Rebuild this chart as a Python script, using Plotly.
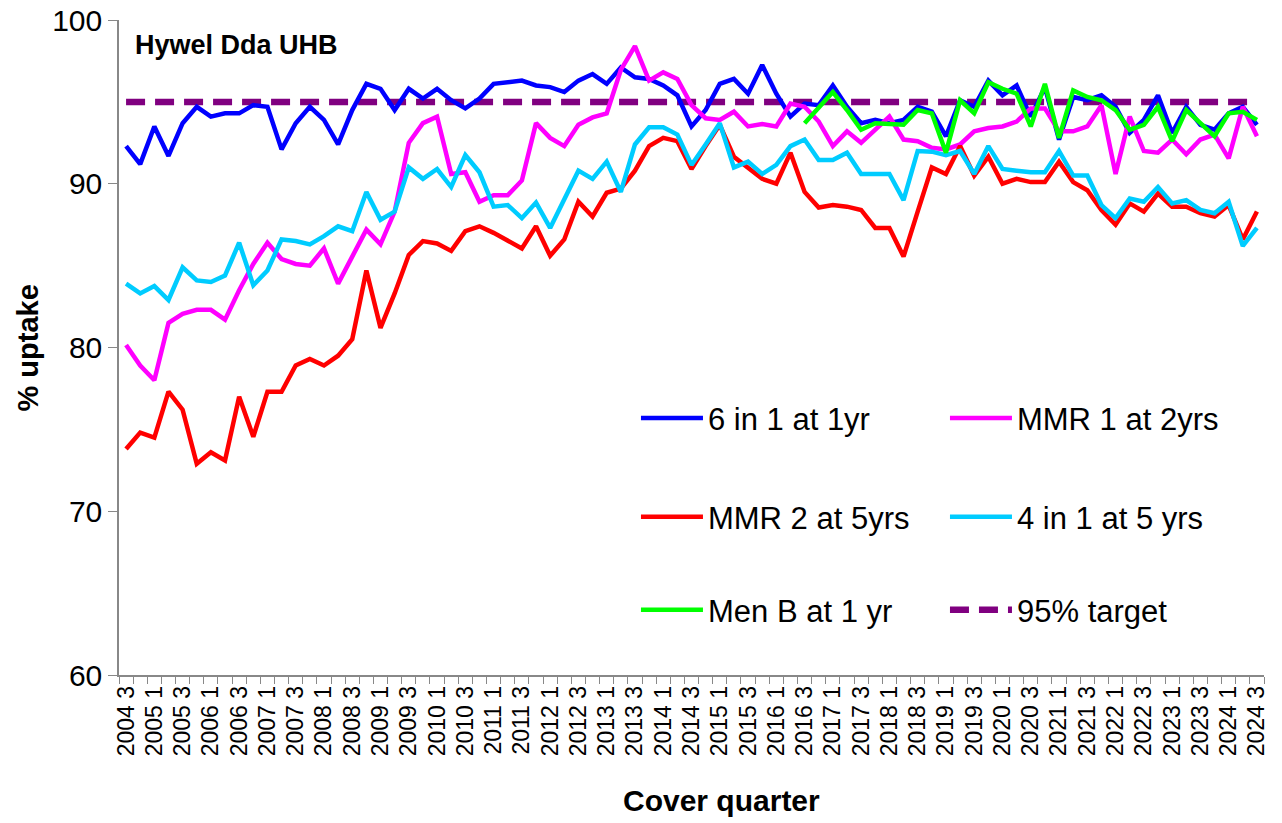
import plotly.graph_objects as go

# Cover quarters 2004 Q3 .. 2024 Q3
quarters = []
for yr in range(2004, 2025):
    for q in range(1, 5):
        if (yr == 2004 and q < 3) or (yr == 2024 and q > 3):
            continue
        quarters.append(f"{yr} {q}")

six_in_one_1yr = [92.3, 91.2, 93.5, 91.7, 93.7, 94.7, 94.1, 94.3, 94.3, 94.8,
                  94.7, 92.1, 93.7, 94.7, 93.9, 92.4, 94.5, 96.1, 95.8, 94.5,
                  95.8, 95.2, 95.8, 95.1, 94.6, 95.2, 96.1, 96.2, 96.3, 96.0,
                  95.9, 95.6, 96.3, 96.7, 96.1, 97.1, 96.5, 96.4, 96.0, 95.4,
                  93.5, 94.5, 96.1, 96.4, 95.5, 97.25, 95.5, 94.1, 94.9, 94.8,
                  96.0, 94.7, 93.7, 93.9, 93.7, 93.9, 94.7, 94.4, 92.9, 95.1,
                  94.7, 96.3, 95.4, 96.0, 94.1, 95.9, 92.7, 95.3, 95.1, 95.4,
                  94.7, 93.1, 93.9, 95.4, 93.1, 94.7, 93.6, 93.3, 94.3, 94.7,
                  93.6]

mmr1_2yrs = [80.15, 78.9, 78.0, 81.5, 82.05, 82.3, 82.3, 81.7, 83.5, 85.1,
             86.4, 85.4, 85.1, 85.0, 86.05, 83.9, 85.55, 87.2, 86.3, 88.3,
             92.5, 93.7, 94.1, 90.6, 90.7, 88.9, 89.3, 89.3, 90.2, 93.7,
             92.8, 92.3, 93.6, 94.05, 94.3, 96.95, 98.4, 96.3, 96.8, 96.4,
             94.8, 94.0, 93.9, 94.4, 93.5, 93.65, 93.5, 94.9, 94.7, 93.8,
             92.3, 93.2, 92.5, 93.3, 94.1, 92.7, 92.6, 92.2, 92.1, 92.4,
             93.2, 93.4, 93.5, 93.8, 94.6, 94.6, 93.2, 93.2, 93.5, 94.8,
             90.6, 94.1, 92.0, 91.9, 92.7, 91.8, 92.7, 93.0, 91.55, 94.7,
             92.9]

mmr2_5yrs = [73.8, 74.8, 74.5, 77.3, 76.2, 72.9, 73.6, 73.1, 77.0, 74.55,
             77.3, 77.3, 78.9, 79.3, 78.9, 79.5, 80.5, 84.7, 81.2, 83.3,
             85.65, 86.5, 86.35, 85.9, 87.1, 87.4, 87.0, 86.5, 86.05, 87.4,
             85.6, 86.6, 88.9, 88.0, 89.45, 89.7, 90.8, 92.3, 92.8, 92.6,
             90.9, 92.3, 93.6, 91.65, 91.0, 90.3, 90.0, 91.9, 89.5, 88.55,
             88.7, 88.6, 88.4, 87.3, 87.3, 85.55, 88.3, 91.0, 90.6, 92.3,
             90.5, 91.65, 90.0, 90.3, 90.1, 90.1, 91.35, 90.1, 89.6, 88.4,
             87.5, 88.8, 88.3, 89.4, 88.6, 88.6, 88.2, 88.0, 88.7, 86.6,
             88.3]

four_in_one_5yrs = [83.9, 83.3, 83.75, 82.9, 84.9, 84.1, 84.0, 84.4, 86.4, 83.8,
                    84.7, 86.6, 86.5, 86.3, 86.8, 87.4, 87.1, 89.5, 87.8, 88.3,
                    91.0, 90.3, 90.9, 89.8, 91.75, 90.7, 88.6, 88.7, 87.9, 88.85,
                    87.3, 89.0, 90.8, 90.3, 91.35, 89.5, 92.4, 93.45, 93.45, 93.0,
                    91.15, 92.4, 93.7, 91.0, 91.35, 90.6, 91.15, 92.3, 92.7, 91.45,
                    91.45, 91.9, 90.6, 90.6, 90.6, 89.0, 92.0, 91.96, 91.75, 92.0,
                    90.6, 92.3, 90.9, 90.8, 90.7, 90.7, 92.0, 90.5, 90.5, 88.7,
                    87.9, 89.1, 88.9, 89.8, 88.8, 89.0, 88.4, 88.2, 88.9, 86.2,
                    87.3]

menb_1yr = [None] * 48 + [93.7, 94.7, 95.6, 94.5, 93.3, 93.7, 93.65, 93.6, 94.5, 94.3,
                          91.9, 95.1, 94.3, 96.2, 95.8, 95.5, 93.5, 96.1, 92.8, 95.7,
                          95.3, 95.1, 94.5, 93.3, 93.6, 94.7, 92.6, 94.5, 93.7, 92.9,
                          94.3, 94.4, 93.9]

target = [95] * len(quarters)

tick_text = [q if i % 2 == 0 else "" for i, q in enumerate(quarters)]

FONT = "Liberation Sans, Arial, sans-serif"

fig = go.Figure()
fig.add_trace(go.Scatter(x=quarters, y=target, name="95% target", mode="lines",
                         line=dict(color="#800080", width=6.5, dash="19px,10px"),
                         legend="legend3", legendrank=2))
fig.add_trace(go.Scatter(x=quarters, y=six_in_one_1yr, name="6 in 1 at 1yr", mode="lines",
                         line=dict(color="#0000FF", width=4.5), legend="legend", legendrank=1))
fig.add_trace(go.Scatter(x=quarters, y=mmr1_2yrs, name="MMR 1 at 2yrs", mode="lines",
                         line=dict(color="#FF00FF", width=4.5), legend="legend", legendrank=2))
fig.add_trace(go.Scatter(x=quarters, y=mmr2_5yrs, name="MMR 2 at 5yrs", mode="lines",
                         line=dict(color="#FF0000", width=4.5), legend="legend2", legendrank=1))
fig.add_trace(go.Scatter(x=quarters, y=four_in_one_5yrs, name="4 in 1 at 5 yrs", mode="lines",
                         line=dict(color="#00CCFF", width=4.5), legend="legend2", legendrank=2))
fig.add_trace(go.Scatter(x=quarters, y=menb_1yr, name="Men B at 1 yr", mode="lines",
                         line=dict(color="#00FF00", width=4.5), legend="legend3", legendrank=1))

leg_common = dict(orientation="h", xanchor="left", yanchor="middle",
                  font=dict(family=FONT, size=31, color="#000000"),
                  entrywidth=232, entrywidthmode="pixels", itemwidth=62,
                  bgcolor="rgba(0,0,0,0)", traceorder="normal")

fig.update_layout(
    template="none",
    width=1282, height=823,
    margin=dict(l=119, r=18, t=20, b=148, autoexpand=False),
    paper_bgcolor="white", plot_bgcolor="white",
    font=dict(family=FONT, color="#000000"),
    showlegend=True,
    legend=dict(x=0.4515, y=0.392, **leg_common),
    legend2=dict(x=0.4515, y=0.241, **leg_common),
    legend3=dict(x=0.4515, y=0.099, **leg_common),
    xaxis=dict(
        type="category", range=[-0.5, len(quarters) - 0.5], automargin=False,
        tickmode="array", tickvals=quarters, ticktext=tick_text,
        tickson="boundaries", ticks="outside", ticklen=7, tickcolor="#888888",
        tickwidth=1, tickangle=-90, tickfont=dict(family=FONT, size=23, color="#000000"),
        ticklabeloverflow="allow",
        showline=True, linecolor="#888888", linewidth=1.5,
        showgrid=False, zeroline=False,
    ),
    yaxis=dict(
        range=[60, 100], tickmode="array", tickvals=[60, 70, 80, 90, 100],
        automargin=False, ticklabeloverflow="allow",
        ticks="outside", ticklen=9, tickcolor="#888888", tickwidth=1,
        tickfont=dict(family=FONT, size=30, color="#000000"),
        showline=True, linecolor="#888888", linewidth=1.5,
        showgrid=False, zeroline=False,
    ),
    annotations=[
        dict(text="<b>Hywel Dda UHB</b>", xref="paper", yref="paper",
             x=0.012, y=0.962, xanchor="left", yanchor="middle", showarrow=False,
             font=dict(family=FONT, size=27, color="#000000")),
        dict(text="<b>% uptake</b>", xref="paper", yref="paper",
             x=-0.0795, y=0.5, xanchor="center", yanchor="middle", showarrow=False,
             textangle=-90, font=dict(family=FONT, size=29, color="#000000")),
        dict(text="<b>Cover quarter</b>", xref="paper", yref="paper",
             x=0.526, y=-0.191, xanchor="center", yanchor="middle", showarrow=False,
             font=dict(family=FONT, size=30, color="#000000")),
    ],
)

fig.write_html("out.html",
               config={"displayModeBar": False},
               post_script="document.body.style.margin='0';document.body.style.overflow='hidden';")
